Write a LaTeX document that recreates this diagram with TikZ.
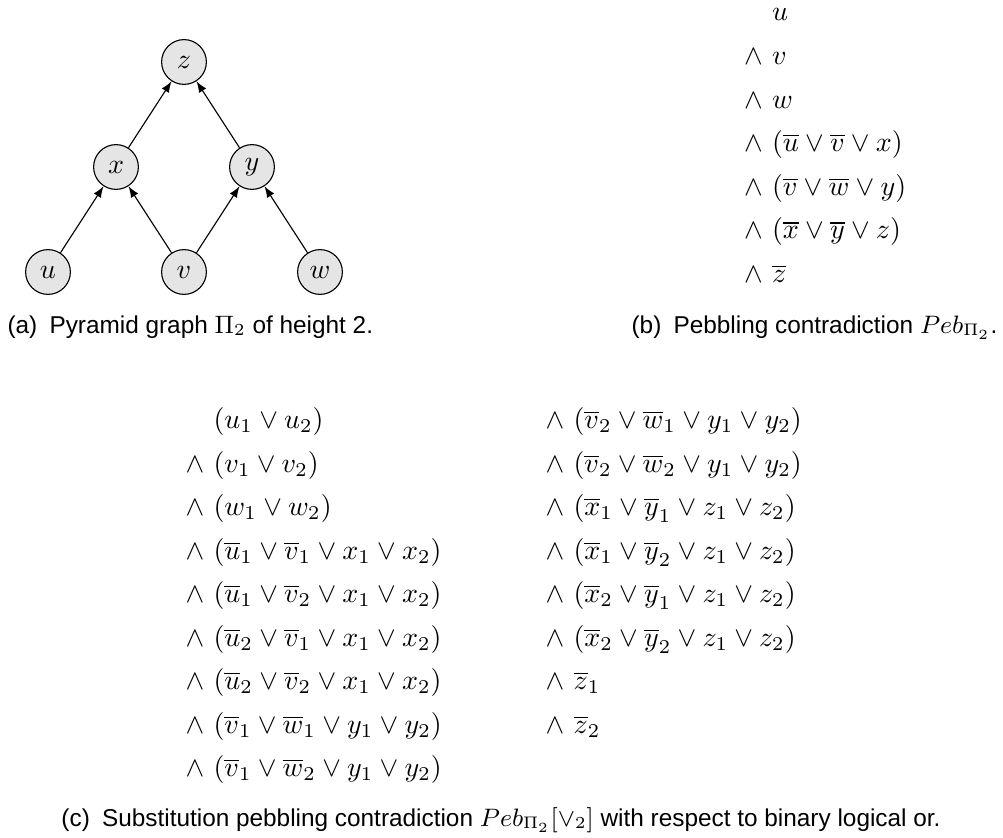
\documentclass[tikz,border=0pt]{standalone}
\usepackage{fontspec}
\setsansfont{Liberation Sans}
\usepackage{amsmath}
\usetikzlibrary{arrows}

\begin{document}
\begin{tikzpicture}[x=0.35714pt,y=0.35714pt,
  vertex/.style={circle, draw, fill=black!10, minimum size=16pt, inner sep=0pt},
  clause/.style={anchor=base west, inner sep=0pt},
  caption/.style={anchor=base west, inner sep=0pt, font=\sffamily\fontsize{8.7}{10.5}\selectfont}]
\useasboundingbox (0,0) rectangle (1003,-838);
% (a) pyramid graph
\node[vertex] (z) at (184,-62) {$z$};
\node[vertex] (x) at (116,-167) {$x$};
\node[vertex] (y) at (252,-167) {$y$};
\node[vertex] (u) at (48,-272) {$u$};
\node[vertex] (v) at (184,-272) {$v$};
\node[vertex] (w) at (320,-272) {$w$};
\foreach \from/\to in {u/x, v/x, v/y, w/y, x/z, y/z}
  \draw[->, >=latex] (\from) -- (\to);
\node[caption] (capa) at (7,-333) {(a)\enspace Pyramid graph $\Pi_2$ of height 2.};
% (b) pebbling formula
\node[clause] (b0) at (743.5,-21) {$\phantom{\wedge}\ u$};
\foreach \f [count=\i] in {v, w,
  {(\overline{u}\vee\overline{v}\vee x)},
  {(\overline{v}\vee\overline{w}\vee y)},
  {(\overline{x}\vee\overline{y}\vee z)},
  {\overline{z}}}
  \node[clause] (b\i) at (743.5,-21-43.6*\i) {$\wedge\ \f$};
\node[caption, anchor=base east] (capb) at (998,-333) {(b)\enspace Pebbling contradiction $Peb_{\Pi_2}$.};
% (c) substituted formula, two columns
\node[clause] (cl0) at (185,-428.7) {$\phantom{\wedge}\ (u_1\vee u_2)$};
\foreach \f [count=\i] in {{(v_1\vee v_2)}, {(w_1\vee w_2)},
  {(\overline{u}_1\vee\overline{v}_1\vee x_1\vee x_2)},
  {(\overline{u}_1\vee\overline{v}_2\vee x_1\vee x_2)},
  {(\overline{u}_2\vee\overline{v}_1\vee x_1\vee x_2)},
  {(\overline{u}_2\vee\overline{v}_2\vee x_1\vee x_2)},
  {(\overline{v}_1\vee\overline{w}_1\vee y_1\vee y_2)},
  {(\overline{v}_1\vee\overline{w}_2\vee y_1\vee y_2)}}
  \node[clause] (cl\i) at (185,-428.7-43.5*\i) {$\wedge\ \f$};
\foreach \f [count=\i from 0] in {
  {(\overline{v}_2\vee\overline{w}_1\vee y_1\vee y_2)},
  {(\overline{v}_2\vee\overline{w}_2\vee y_1\vee y_2)},
  {(\overline{x}_1\vee\overline{y}_1\vee z_1\vee z_2)},
  {(\overline{x}_1\vee\overline{y}_2\vee z_1\vee z_2)},
  {(\overline{x}_2\vee\overline{y}_1\vee z_1\vee z_2)},
  {(\overline{x}_2\vee\overline{y}_2\vee z_1\vee z_2)},
  {\overline{z}_1}, {\overline{z}_2}}
  \node[clause] (cr\i) at (545,-428.7-43.5*\i) {$\wedge\ \f$};
\node[caption, anchor=base] (capc) at (501,-826) {(c)\enspace Substitution pebbling contradiction $Peb_{\Pi_2}[\vee_2]$ with respect to binary logical or.};
\end{tikzpicture}
\end{document}
